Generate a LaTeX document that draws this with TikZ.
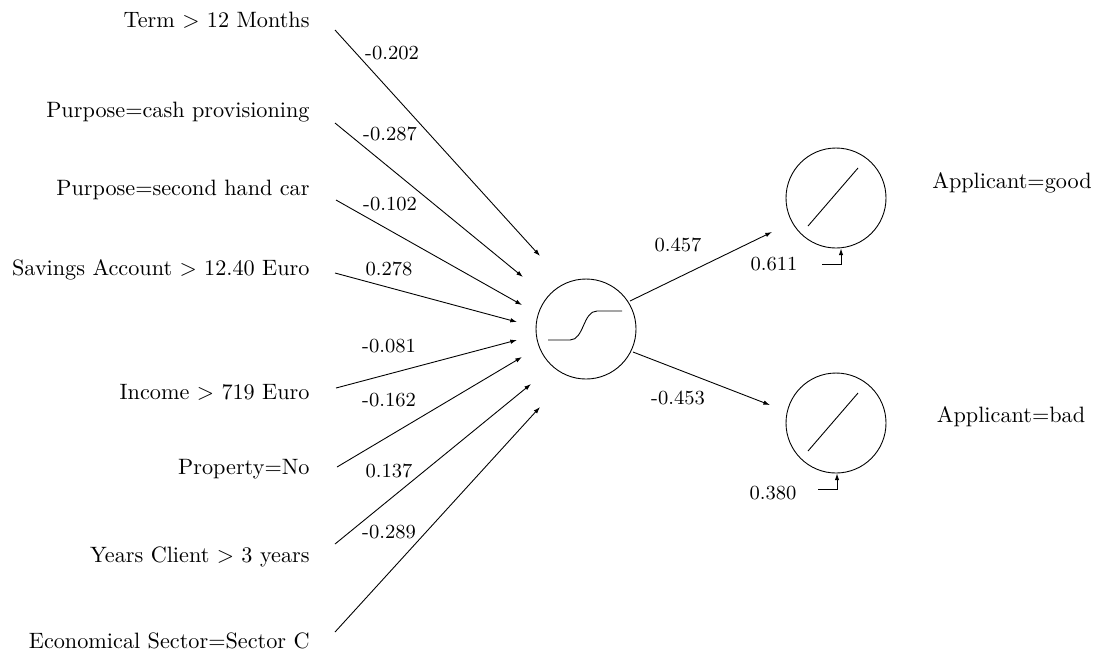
\documentclass[tikz,border=0pt]{standalone}
\usetikzlibrary{arrows.meta,calc}

\tikzset{
  neuron/.style={draw,circle,minimum size=45pt,inner sep=0pt},
  inlabel/.style={anchor=east,inner sep=0pt},
  weight/.style={font=\small,inner sep=0pt},
  >={Latex[length=3pt,width=2pt]}
}

\begin{document}
\begin{tikzpicture}[x=0.45pt,y=-0.45pt,->]
  \useasboundingbox (0,0) rectangle (1096,656);

  % inputs
  \node[inlabel] (term) at (310,20) {Term $>$ 12 Months};
  \node[inlabel] (cash) at (310,112) {Purpose=cash provisioning};
  \node[inlabel] (car) at (310,190) {Purpose=second hand car};
  \node[inlabel] (sav) at (310,270) {Savings Account $>$ 12.40 Euro};
  \node[inlabel] (inc) at (310,392) {Income $>$ 719 Euro};
  \node[inlabel] (prop) at (310,469) {Property=No};
  \node[inlabel] (years) at (310,557) {Years Client $>$ 3 years};
  \node[inlabel] (sect) at (310,641) {Economical Sector=Sector C};

  \coordinate (s1) at (335,30);  \coordinate (t1) at (540,256);
  \coordinate (s2) at (335,123); \coordinate (t2) at (523,277);
  \coordinate (s3) at (336,200); \coordinate (t3) at (522,305);
  \coordinate (s4) at (335,273); \coordinate (t4) at (517,322);
  \coordinate (s5) at (336,388); \coordinate (t5) at (517,340);
  \coordinate (s6) at (337,467); \coordinate (t6) at (522,357);
  \coordinate (s7) at (335,544); \coordinate (t7) at (531,384);
  \coordinate (s8) at (335,632); \coordinate (t8) at (540,407);

  % hidden and output neurons
  \node[neuron] (hid) at (586,329) {};
  \node[neuron] (good) at (836,198) {};
  \node[neuron] (bad) at (836,423) {};

  \node (goodlab) at (1012,183) {Applicant=good};
  \node (badlab) at (1011,417) {Applicant=bad};

  \draw[-] ([shift={(-38,11)}]hid.center) -- ++(22,0)
    .. controls ++(14,0) and ++(-14,0) .. ++(27,-29) -- ++(25,0);
  \draw[-] ([shift={(-28,28)}]good.center) -- ++(50,-58);
  \draw[-] ([shift={(-28,28)}]bad.center) -- ++(50,-58);

  \path
  (s1) edge (t1)
  (s2) edge (t2)
  (s3) edge (t3)
  (s4) edge (t4)
  (s5) edge (t5)
  (s6) edge (t6)
  (s7) edge (t7)
  (s8) edge (t8);

  \node[weight] at (392,53) {-0.202};
  \node[weight] at (390,134) {-0.287};
  \node[weight] at (390,204) {-0.102};
  \node[weight] at (389,269) {0.278};
  \node[weight] at (389,346) {-0.081};
  \node[weight] at (389,400) {-0.162};
  \node[weight] at (389,471) {0.137};
  \node[weight] at (389,532) {-0.289};

  % hidden to output
  \coordinate (h1) at (630,301); \coordinate (o1) at (772,232);
  \coordinate (h2) at (633,352); \coordinate (o2) at (770,405);
  \path
  (h1) edge (o1)
  (h2) edge (o2);
  \node[weight] at (678,245) {0.457};
  \node[weight] at (678,398) {-0.453};

  % biases
  \coordinate (bgood) at (822,264);
  \coordinate (bbad) at (818,489);
  \draw (bgood) -| ($(good.south)+(5,0)$);
  \draw (bbad) -| ($(bad.south)+(1,0)$);
  \node[weight] at (774,264) {0.611};
  \node[weight] at (773,493) {0.380};
\end{tikzpicture}
\end{document}
